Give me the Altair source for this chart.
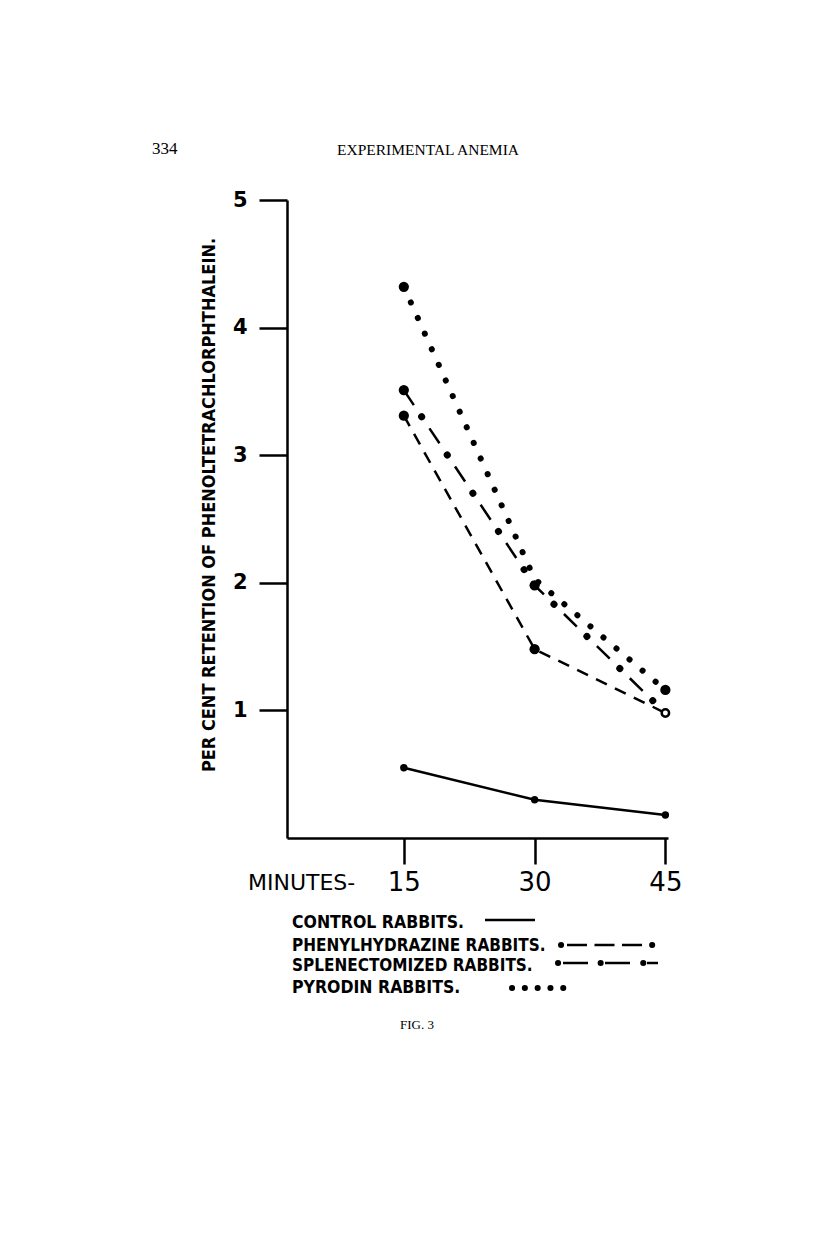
import altair as alt
import pandas as pd

# ---- data ----
minutes = [15, 30, 45]
control = [0.55, 0.30, 0.18]
phenylhydrazine = [3.31, 1.48, 0.98]
splenectomized = [3.51, 1.98, 0.98]
pyrodin = [4.32, 2.03, 1.16]
series_names = ["Control", "Phenylhydrazine", "Splenectomized", "Pyrodin"]
y_ticks = [1, 2, 3, 4, 5]
x_ticks = [15, 30, 45]

rows = []
for name, vals in zip(series_names, [control, phenylhydrazine, splenectomized, pyrodin]):
    for m, v in zip(minutes, vals):
        rows.append({"series": name, "minute": m, "value": v})
df = pd.DataFrame(rows)

W, H = 381, 638
NARROW = "DejaVu Sans Condensed, sans-serif"

X = alt.X("minute:Q",
          scale=alt.Scale(domain=[1.6, 45.3], nice=False, zero=False),
          axis=alt.Axis(values=x_ticks, title=None, grid=False, tickSize=26, tickWidth=2.5,
                        tickColor="black", domainColor="black", domainWidth=2.5,
                        labelFont="DejaVu Sans", labelFontSize=26, labelColor="black",
                        labelPadding=5, labelFlush=False, labelOverlap=False))
Y = alt.Y("value:Q",
          scale=alt.Scale(domain=[0, 5], nice=False),
          axis=alt.Axis(values=y_ticks, title=None, grid=False, tickSize=28, tickWidth=2.5,
                        tickColor="black", domainColor="black", domainWidth=2.5,
                        labelFont="DejaVu Sans", labelFontSize=21, labelFontWeight="bold",
                        labelColor="black", labelPadding=12, format="d"))

base = alt.Chart(df).encode(x=X, y=Y)


def only(s):
    return alt.datum.series == s


control_line = base.transform_filter(only("Control")).mark_line(
    color="black", strokeWidth=2.5)
phenyl_line = base.transform_filter(only("Phenylhydrazine")).mark_line(
    color="black", strokeWidth=2.5, strokeDash=[12, 9])
splen_dash = base.transform_filter(only("Splenectomized")).mark_line(
    color="black", strokeWidth=2.5, strokeDash=[18, 28])
splen_dot = base.transform_filter(only("Splenectomized")).mark_line(
    color="black", strokeWidth=7, strokeCap="round", strokeDash=[0.1, 45.9], strokeDashOffset=14)
pyro_line = base.transform_filter(only("Pyrodin")).mark_line(
    color="black", strokeWidth=6, strokeCap="round", strokeDash=[0.1, 17])

control_pts = base.transform_filter(only("Control")).mark_circle(
    color="black", size=55, opacity=1)
big_pts = base.transform_filter(
    "datum.series != 'Control' && !(datum.series == 'Pyrodin' && datum.minute == 30)"
    " && !(datum.minute == 45 && datum.series != 'Pyrodin')"
).mark_circle(color="black", size=105, opacity=1)
ring_pt = base.transform_filter(
    "datum.series == 'Phenylhydrazine' && datum.minute == 45"
).mark_point(color="black", filled=False, size=55, strokeWidth=2.5, fill="white", fillOpacity=1)


def label(text, x, y, size, font, weight="normal", align="left", angle=0, baseline="alphabetic"):
    return alt.Chart(pd.DataFrame({"t": [text]})).mark_text(
        font=font, fontSize=size, fontWeight=weight, align=align, baseline=baseline,
        angle=angle, color="black"
    ).encode(text="t:N", x=alt.value(x), y=alt.value(y))


def rule(x1, x2, y, width, dash=None, cap="butt"):
    kw = dict(color="black", strokeWidth=width, strokeCap=cap)
    if dash is not None:
        kw["strokeDash"] = dash
    return alt.Chart(pd.DataFrame({"a": [0]})).mark_rule(**kw).encode(
        x=alt.value(x1), x2=alt.value(x2), y=alt.value(y))


texts = [
    label("334", -135, -46, 17, "Liberation Serif"),
    label("EXPERIMENTAL ANEMIA", 141, -45, 15.5, "Liberation Serif", align="center"),
    label("FIG. 3", 130, 829, 13, "Liberation Serif", align="center"),
    label("PER CENT RETENTION OF PHENOLTETRACHLORPHTHALEIN.", -77, 305, 18, NARROW,
          weight="bold", align="center", angle=270, baseline="middle"),
    label("MINUTES-", -39, 690, 22, "DejaVu Sans"),
    label("CONTROL RABBITS.", 5, 728, 17.5, NARROW, weight="bold"),
    label("PHENYLHYDRAZINE RABBITS.", 5, 751, 17, NARROW, weight="bold"),
    label("SPLENECTOMIZED RABBITS.", 5, 771, 17, NARROW, weight="bold"),
    label("PYRODIN RABBITS.", 5, 793, 17.5, NARROW, weight="bold"),
]

samples = [
    rule(198, 248, 720, 2.5),
    rule(280, 355, 745, 2.5, dash=[20, 7.5]),
    rule(274, 366, 745, 6, dash=[0.1, 91], cap="round"),
    rule(276, 371, 763, 2.5, dash=[25, 17]),
    rule(271, 357, 763, 6, dash=[0.1, 42.5], cap="round"),
    rule(225, 277, 788, 6, dash=[0.1, 12.7], cap="round"),
]

chart = alt.layer(
    control_line, phenyl_line, splen_dash, splen_dot, pyro_line,
    control_pts, big_pts, ring_pt, *texts, *samples
).properties(
    width=W, height=H,
    padding={"left": 279, "top": 192, "right": 140, "bottom": 230},
    autosize=alt.AutoSizeParams(type="none"),
    background="white",
).configure_view(stroke=None)

chart.save("out.html", embed_options={"renderer": "svg", "actions": False})
